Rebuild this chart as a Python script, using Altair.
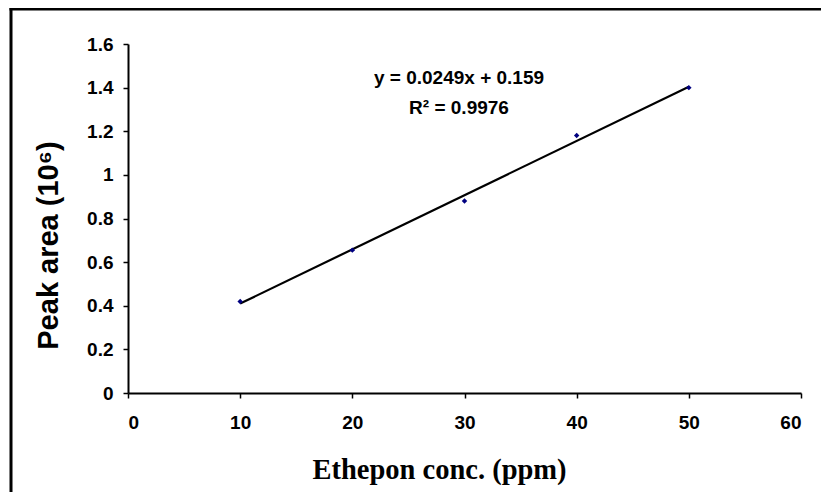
import altair as alt
import pandas as pd

conc = [10, 20, 30, 40, 50]
peak_area = [0.42, 0.655, 0.88, 1.18, 1.40]
x_ticks = [0, 10, 20, 30, 40, 50, 60]
y_ticks = [0, 0.2, 0.4, 0.6, 0.8, 1.0, 1.2, 1.4, 1.6]
eq_line1 = "y = 0.0249x + 0.159"
eq_line2 = "R² = 0.9976"

df = pd.DataFrame({"conc": conc, "area": peak_area})

xscale = alt.Scale(domain=[0, 60], nice=False)
yscale = alt.Scale(domain=[0, 1.6], nice=False)

xaxis = alt.Axis(
    values=x_ticks, title="Ethepon conc. (ppm)", grid=False,
    titleFont="Liberation Serif", titleFontSize=28.5, titleFontWeight="bold",
    titleX=311, titleY=85, titleBaseline="alphabetic", titleAlign="center",
    labelPadding=15,
)
yaxis = alt.Axis(
    values=y_ticks, title="Peak area (10⁶)", grid=False, format="~g",
    titleFont="Liberation Sans", titleFontSize=29, titleFontWeight="bold",
    titleAngle=-90, titleX=-80, titleY=201, titleBaseline="middle", titleAlign="center",
    labelPadding=10,
)

base = alt.Chart(df)

line = base.transform_regression("conc", "area", extent=[10, 50]).mark_line(
    color="black", strokeWidth=2.2
).encode(
    x=alt.X("conc:Q", scale=xscale, axis=xaxis),
    y=alt.Y("area:Q", scale=yscale, axis=yaxis),
)

points = base.mark_point(shape="diamond", filled=True, color="#000080", size=30, opacity=1).encode(
    x=alt.X("conc:Q", scale=xscale),
    y=alt.Y("area:Q", scale=yscale),
)

ann = pd.DataFrame({"t": [eq_line1]})
ann2 = pd.DataFrame({"t": [eq_line2]})
text1 = alt.Chart(ann).mark_text(
    font="Liberation Sans", fontSize=19, fontWeight="bold", color="black", align="center", baseline="middle"
).encode(text="t:N", x=alt.value(331), y=alt.value(34))
text2 = alt.Chart(ann2).mark_text(
    font="Liberation Sans", fontSize=19, fontWeight="bold", color="black", align="center", baseline="middle"
).encode(text="t:N", x=alt.value(331), y=alt.value(64))

frame_df = pd.DataFrame({"a": [0]})
frame_left = alt.Chart(frame_df).mark_rule(color="black", strokeWidth=3, clip=False).encode(
    x=alt.value(-117), y=alt.value(-36), y2=alt.value(470)
)
frame_top = alt.Chart(frame_df).mark_rule(color="black", strokeWidth=3, clip=False).encode(
    x=alt.value(-118.5), x2=alt.value(720), y=alt.value(-35)
)

chart = alt.layer(frame_left, frame_top, line, points, text1, text2).properties(
    width=673, height=349,
    autosize=alt.AutoSizeParams(type="none"),
    padding={"left": 120, "top": 36, "right": 20, "bottom": 99},
).configure_view(stroke=None).configure_axis(
    domainColor="black", domainWidth=2, tickColor="black", tickWidth=1.5, tickSize=5,
    labelFont="Liberation Sans", labelFontSize=19, labelFontWeight="bold", labelColor="black",
    titleColor="black",
)

chart.save("out.html", embed_options={"renderer": "svg", "actions": False})
